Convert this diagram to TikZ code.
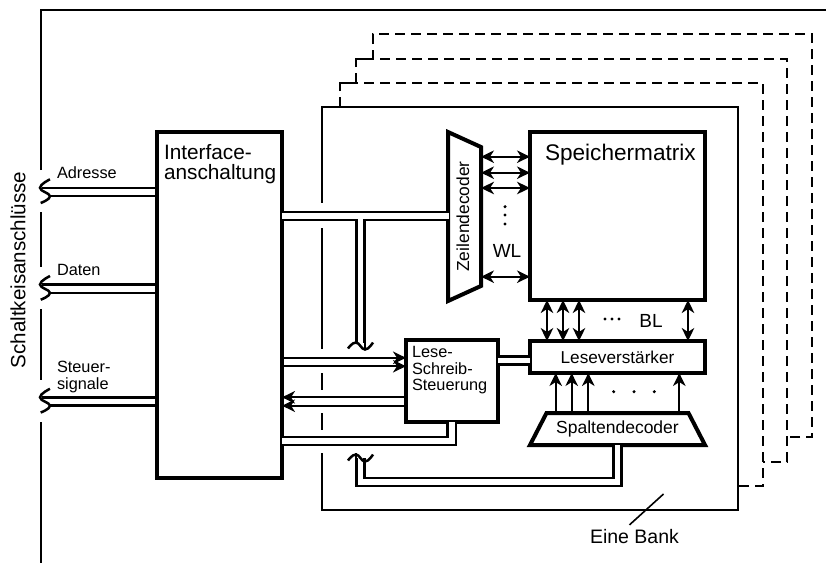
\documentclass[tikz,border=0pt]{standalone}
\usepackage{fontspec}
\setmainfont{Liberation Sans}
\usetikzlibrary{arrows.meta,positioning,shapes.geometric,calc}
\newcommand{\fsz}[1]{\fontsize{#1}{#1}\selectfont}

\begin{document}
\begin{tikzpicture}[
  x=1pt,y=-1pt,
  every node/.style={outer sep=0pt,inner sep=0pt},
  blk/.style={draw,line width=4pt,fill=white,rectangle},
  decod/.style={draw,line width=4pt,fill=white,trapezium,trapezium stretches body=true,text height=12.5pt,text depth=3.5pt},
  txt/.style={align=left,anchor=north west,font=\fsz{16.3}\linespread{1.05}\selectfont},
  thinl/.style={line width=1.6pt},
  dashl/.style={line width=1.7pt,dash pattern=on 10pt off 6pt},
  wire/.style={line width=2.5pt},
  bus/.style={line width=2.5pt,double,double distance=5.8pt},
  arr/.style={-{Stealth[length=13pt,width=12.5pt,inset=4pt]},line width=2pt},
  biarr/.style={{Stealth[length=13pt,width=12.5pt,inset=4pt]}-{Stealth[length=13pt,width=12.5pt,inset=4pt]},line width=2pt},
  dotn/.style={circle,fill=black,minimum size=3.4pt},
  pics/pinend/.style={code={\draw[wire] plot[smooth,tension=.8] coordinates {(5,-12.7) (-5,-4.2) (5,4.2) (-4.3,11)};}},
  pics/crossend/.style={code={\draw[wire] plot[smooth,tension=.8] coordinates {(-12.5,2.5) (-4.5,-3.5) (4.5,3.5) (12.5,-3.5)};}}
]
\useasboundingbox (0,0) rectangle (826,563);
% outer frame
\draw[thinl] (41,170) -- (41,10) -- (826,10);
\foreach \a/\b in {212/267,309/380,422/563} \draw[thinl] (41,\a) -- (41,\b);
\node[font=\fsz{20.6},rotate=90] (pins) at (18,270) {Schaltkeisanschlüsse};
% bank and the dashed ones behind it
\draw[thinl] (322,453) -- (322,510) -- (738,510) -- (738,107) -- (322,107) -- (322,203);
\foreach \a/\b in {228/349,373/390,413/430} \draw[thinl] (322,\a) -- (322,\b);
\draw[dashl] (340,107) -- (340,83) -- (763,83) -- (763,486) -- (738,486);
\draw[dashl] (340,83) -- (356,83) -- (356,59) -- (787,59) -- (787,462) -- (763,462);
\draw[dashl] (356,59) -- (373,59) -- (373,34) -- (812,34) -- (812,437) -- (787,437);
% blocks
\node[blk,anchor=north west,minimum width=125pt,minimum height=346pt] (ifc) at (157,132) {};
\node[blk,anchor=north west,minimum width=175pt,minimum height=168pt] (mat) at (530,132) {};
\node[blk,below=41pt of mat,minimum width=175pt,minimum height=32pt,font=\fsz{17.2}] (lv) {Leseverstärker};
\node[blk,anchor=north west,minimum width=92pt,minimum height=82pt] (ls) at (406,340) {};
\node[decod,inner ysep=8pt,trapezium left angle=62.7,trapezium right angle=62.7,minimum width=175pt,font=\fsz{17.5}] (sd) at (617.5,429) {Spaltendecoder};
\node[decod,inner ysep=8.5pt,rotate=90,shape border rotate=180,trapezium left angle=65.5,trapezium right angle=65.5,minimum width=169pt,font=\fsz{17.4}] (zd) at (464.5,216.5) {Zeilendecoder};
% block texts
\node[txt,font=\fsz{20.8}\linespread{.96}\selectfont] (ifct) at ([shift={(7,12)}]ifc.north west) {Interface-\\anschaltung};
\node[txt,font=\fsz{22.6}] (matt) at ([shift={(15,12)}]mat.north west) {Speichermatrix};
\node[txt,font=\fsz{16.3}\linespread{1.03}\selectfont] (lst) at ([shift={(6,6)}]ls.north west) {Lese-\\Schreib-\\Steuerung};
\node[txt] (adr) at (57,167) {Adresse};
\node[txt] (dat) at (57,264) {Daten};
\node[txt] (sig) at (57,361) {Steuer-\\signale};
\node[font=\fsz{19}] (wl) at (507,251) {WL};
\node[font=\fsz{19}] (bl) at (651,321) {BL};
\node[font=\fsz{19.5}] (bank) at (634.5,537) {Eine Bank};
\coordinate (bankp) at (663.5,494);
\draw[line width=1.6pt] ([xshift=-5pt,yshift=5pt]bank.north) -- (bankp);
% pins
\foreach \n/\y in {padr/192,pdat/288.7,psig/401.5} {
  \coordinate (\n) at (45,\y);
  \pic at (\n) {pinend};
  \draw[wire] ([yshift=4.2pt]ifc.west |- \n) -- ([xshift=-3pt,yshift=4.2pt]\n);
  \draw[wire] ([yshift=-4.2pt]ifc.west |- \n) -- ([xshift=5pt,yshift=-4.2pt]\n);
}
% main bus with its branch
\coordinate (mb) at (282,216);
\coordinate (mbe) at (360.5,216);
\coordinate (up) at (360.5,346);
\coordinate (lo) at (360.5,458);
\foreach \w/\c in {10.8/black,5.8/white}
  \draw[line width=\w pt,color=\c] (mb) -- ([xshift=-16pt]zd.center |- mb) (mbe) -- (up |- 0,342.5);
\draw[wire] ([xshift=4.5pt]up |- 0,342) -- ([xshift=4.5pt]up |- 0,349);
\pic at (up) {crossend};
% read and write lines
\coordinate (rd) at (282,362);
\coordinate (wr) at (282,401.5);
\foreach \d in {-4.2,4.2} {
  \draw[arr] ([yshift=\d pt]rd) -- ([yshift=\d pt]ls.west |- rd);
  \draw[arr] ([yshift=\d pt]ls.west |- wr) -- ([yshift=\d pt]wr);
}
\draw[bus] (ls.east |- 0,360.4) -- (lv.west |- 0,360.4);
\draw[bus] (282,441) -- (451.7,441) -- (451.7,0 |- ls.south);
% column decoder bus
\coordinate (sdb) at (617.5,445);
\draw[bus] (sdb) -- (617.5,482) -- (360.5,482) -- (lo);
\draw[wire] ([xshift=-4.5pt]lo |- 0,453) -- ([xshift=-4.5pt]lo |- 0,458);
\pic at (lo) {crossend};
% word lines, bit lines, column lines
\foreach \y in {156.7,172.7,188,276.7}
  \draw[biarr] ([xshift=16.5pt]zd.center |- 0,\y) -- (mat.west |- 0,\y);
\foreach \y [count=\i] in {206.7,215,224} \node[dotn] (wd\i) at (505,\y) {};
\foreach \x in {547,563,579,688}
  \draw[biarr] (\x,0 |- mat.south) -- (\x,0 |- lv.north);
\foreach \x [count=\i] in {605,612,619} \node[dotn] (bd\i) at (\x,319) {};
\foreach \x in {555.7,571.7,588.3,679.3}
  \draw[arr] (\x,0 |- sd.north) -- (\x,0 |- lv.south);
\foreach \x [count=\i] in {613.7,634,654.3} \node[dotn] (cd\i) at (\x,391.7) {};
\end{tikzpicture}
\end{document}
